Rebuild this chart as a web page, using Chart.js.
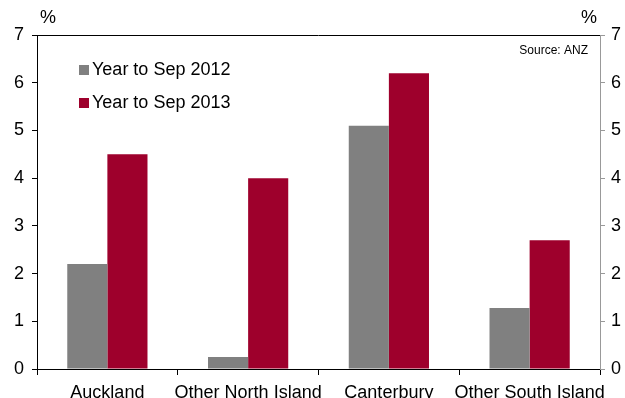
<!DOCTYPE html>
<html>
<head>
<meta charset="utf-8">
<script src="https://cdn.jsdelivr.net/npm/chart.js@4"></script>
<style>
  html, body { margin: 0; padding: 0; background: #fff; }
  #wrap { width: 625px; height: 398px; }
</style>
</head>
<body>
<div id="wrap"><canvas id="c" width="625" height="398"></canvas></div>
<script>
const regions = ['Auckland', 'Other North Island', 'Canterbury', 'Other South Island'];
const year2012 = [2.2, 0.25, 5.1, 1.28];
const year2013 = [4.5, 4.0, 6.2, 2.7];
const yTicks = [0, 1, 2, 3, 4, 5, 6, 7];

const FONT = 'Liberation Sans, Arial, sans-serif';

// legend, unit labels, source and top border drawn over the plot
const extras = {
  id: 'extras',
  afterDraw(chart) {
    const ctx = chart.ctx;
    const a = chart.chartArea;
    ctx.save();
    ctx.strokeStyle = '#000';
    ctx.lineWidth = 1;
    ctx.beginPath();
    ctx.moveTo(a.left, a.top + 0.5);
    ctx.lineTo(a.right, a.top + 0.5);
    ctx.stroke();

    ctx.fillStyle = '#000';
    ctx.font = '18px ' + FONT;
    ctx.textBaseline = 'middle';
    ctx.textAlign = 'left';
    ctx.fillText('%', a.left + 3, 18);
    ctx.textAlign = 'right';
    ctx.fillText('%', a.right - 3, 18);

    ctx.font = '12px ' + FONT;
    ctx.fillText('Source: ANZ', a.right - 12, a.top + 16);

    ctx.font = '18px ' + FONT;
    ctx.textAlign = 'left';
    chart.data.datasets.forEach((ds, i) => {
      const y = 70 + i * 33;
      ctx.fillStyle = ds.backgroundColor;
      ctx.fillRect(79, y - 5, 10, 10);
      ctx.fillStyle = '#000';
      ctx.fillText(ds.label, 92, y);
    });
    ctx.restore();
  }
};

new Chart('c', {
  type: 'bar',
  data: {
    labels: regions,
    datasets: [
      { label: 'Year to Sep 2012', data: year2012, backgroundColor: '#808080', yAxisID: 'y' },
      { label: 'Year to Sep 2013', data: year2013, backgroundColor: '#9e002c', yAxisID: 'y' }
    ]
  },
  options: {
    responsive: false,
    animation: false,
    layout: { padding: { top: 35, left: 0, right: 0, bottom: 0 } },
    datasets: { bar: { barPercentage: 1, categoryPercentage: 0.57 } },
    plugins: { legend: { display: false }, tooltip: { enabled: false } },
    scales: {
      x: {
        grid: { offset: true, drawOnChartArea: false, tickLength: 6, color: '#000' },
        border: { color: '#000', width: 1 },
        ticks: { color: '#000', font: { family: FONT, size: 18 }, padding: 7, maxRotation: 0, autoSkip: false },
        afterFit(s) { s.height = 29; }
      },
      y: {
        position: 'left',
        min: 0, max: 7,
        afterBuildTicks(s) { s.ticks = yTicks.map(v => ({ value: v })); },
        grid: { drawOnChartArea: false, tickLength: 5, color: '#000' },
        border: { color: '#000', width: 1 },
        ticks: { color: '#000', font: { family: FONT, size: 18 }, padding: 8 },
        afterFit(s) { s.width = 37; }
      },
      y2: {
        position: 'right',
        min: 0, max: 7,
        afterBuildTicks(s) { s.ticks = yTicks.map(v => ({ value: v })); },
        grid: { drawOnChartArea: false, tickLength: 5, color: '#999' },
        border: { color: '#999', width: 1 },
        ticks: { color: '#000', font: { family: FONT, size: 18 }, padding: 6 },
        afterFit(s) { s.width = 25; }
      }
    }
  },
  plugins: [extras]
});
</script>
</body>
</html>
